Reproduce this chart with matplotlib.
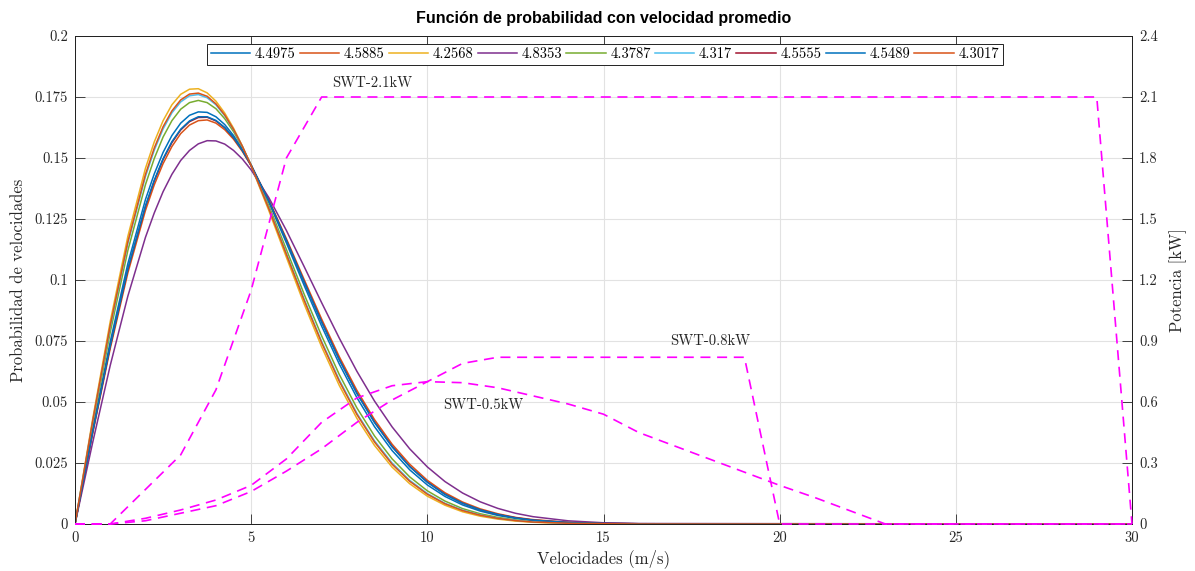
import matplotlib
matplotlib.use("Agg")
import matplotlib.pyplot as plt
from matplotlib.ticker import FixedLocator, FormatStrFormatter

plt.rcParams['font.family'] = ['cmr10', 'DejaVu Serif']
plt.rcParams['axes.formatter.use_mathtext'] = True
plt.rcParams['mathtext.fontset'] = 'cm'

# velocidades para la distribucion (m/s)
v = [0, 0.5, 1, 1.5, 2, 2.25, 2.5, 2.75, 3, 3.25, 3.5, 3.75, 4, 4.25, 4.5, 4.75, 5, 5.5, 6, 6.5,
     7, 7.5, 8, 8.5, 9, 9.5, 10, 10.5, 11, 11.5, 12, 12.5, 13, 14, 15, 16, 30]

etiquetas = ['4.4975', '4.5885', '4.2568', '4.8353', '4.3787', '4.317', '4.5555', '4.5489', '4.3017']

p1 = [0, .0385, .0747, .1067, .1330, .1435, .1523, .1592, .1643, .1675, .1689, .1687, .1669, .1637, .1592, .1536,
      .1471, .1320, .1152, .0979, .0811, .0656, .0518, .0399, .0301, .0222, .0160, .0113, .0078, .0053, .0035,
      .0023, .0014, .0005, .0002, .0001, 0]
p2 = [0, .0370, .0719, .1029, .1285, .1390, .1477, .1547, .1600, .1635, .1653, .1656, .1643, .1616, .1577, .1527,
      .1468, .1328, .1169, .1003, .0840, .0686, .0548, .0428, .0327, .0245, .0179, .0128, .0090, .0062, .0042,
      .0027, .0018, .0007, .0003, .0001, 0]
p3 = [0, .0429, .0830, .1179, .1458, .1566, .1653, .1718, .1761, .1782, .1784, .1767, .1733, .1684, .1622, .1549,
      .1467, .1285, .1093, .0903, .0726, .0568, .0433, .0322, .0233, .0165, .0114, .0077, .0050, .0032, .0020,
      .0012, .0007, .0002, .0001, 0, 0]
p4 = [0, .0333, .0650, .0934, .1175, .1275, .1362, .1433, .1490, .1531, .1558, .1571, .1570, .1557, .1531, .1496,
      .1451, .1338, .1203, .1056, .0907, .0762, .0626, .0504, .0398, .0308, .0234, .0174, .0127, .0091, .0064,
      .0044, .0030, .0013, .0005, .0002, 0]
p5 = [0, .0405, .0786, .1121, .1391, .1498, .1586, .1653, .1700, .1727, .1736, .1727, .1702, .1661, .1608, .1544,
      .1471, .1305, .1125, .0943, .0771, .0613, .0476, .0361, .0267, .0193, .0136, .0094, .0063, .0042, .0027,
      .0017, .0010, .0004, .0001, 0, 0]
p6 = [0, .0417, .0808, .1150, .1424, .1532, .1619, .1685, .1730, .1755, .1760, .1747, .1718, .1673, .1616, .1547,
      .1469, .1296, .1109, .0923, .0748, .0591, .0454, .0341, .0250, .0179, .0125, .0085, .0057, .0037, .0023,
      .0015, .0009, .0003, .0001, 0, 0]
p7 = [0, .0375, .0729, .1043, .1301, .1406, .1494, .1563, .1615, .1649, .1666, .1667, .1652, .1624, .1583, .1531,
      .1469, .1325, .1163, .0994, .0829, .0675, .0537, .0418, .0318, .0236, .0172, .0122, .0085, .0058, .0039,
      .0026, .0016, .0006, .0002, .0001, 0]
p8 = [0, .0376, .0731, .1045, .1304, .1409, .1497, .1567, .1618, .1652, .1669, .1669, .1654, .1625, .1584, .1531,
      .1470, .1324, .1162, .0993, .0827, .0673, .0535, .0416, .0316, .0235, .0171, .0121, .0085, .0058, .0039,
      .0025, .0016, .0006, .0002, .0001, 0]
p9 = [0, .0420, .0814, .1157, .1433, .1541, .1628, .1693, .1738, .1762, .1766, .1753, .1722, .1676, .1617, .1548,
      .1469, .1293, .1105, .0918, .0743, .0585, .0449, .0336, .0245, .0175, .0122, .0083, .0055, .0036, .0023,
      .0014, .0008, .0003, .0001, 0, 0]

# curvas de potencia de las turbinas (kW)
v_pot = list(range(0, 31))
swt_21 = [0, 0, 0.17, 0.34, 0.66, 1.15, 1.80] + [2.10] * 23 + [0]
swt_08 = [0, 0, 0.016, 0.053, 0.09, 0.16, 0.26, 0.37, 0.50, 0.61, 0.70, 0.79] + [0.82] * 8 + [0] * 11
swt_05 = [0, 0, 0.028, 0.069, 0.118, 0.19, 0.32, 0.50, 0.62, 0.68, 0.70, 0.695, 0.67, 0.63, 0.59, 0.54,
          0.45, 0.385, 0.32, 0.255, 0.19, 0.13, 0.065] + [0] * 8

colores = ['#0072BD', '#D95319', '#EDB120', '#7E2F8E', '#77AC30', '#4DBEEE', '#A2142F', '#0072BD', '#D95319']
txt = '#262626'

fig = plt.figure(figsize=(11.95, 5.71), dpi=100)
ax = fig.add_axes([75 / 1195, 47 / 571, 1057 / 1195, 488 / 571])

for serie, lab, c in zip([p1, p2, p3, p4, p5, p6, p7, p8, p9], etiquetas, colores):
    ax.plot(v, serie, color=c, lw=1.1, label=lab)

ax.set_xlim(0, 30)
ax.set_ylim(0, 0.2)
ax.xaxis.set_major_locator(FixedLocator([0, 5, 10, 15, 20, 25, 30]))
ax.yaxis.set_major_locator(FixedLocator([0, 0.025, 0.05, 0.075, 0.1, 0.125, 0.15, 0.175, 0.2]))
ax.yaxis.set_major_formatter(FormatStrFormatter('%g'))
ax.xaxis.set_major_formatter(FormatStrFormatter('%g'))
ax.grid(True, color='#e2e2e2', lw=0.8)
ax.set_axisbelow(True)
ax.tick_params(direction='in', length=7, width=0.6, labelsize=10.5, colors=txt, top=True, right=False, pad=5)
ax.set_xlabel('Velocidades (m/s)', fontsize=12, color=txt, labelpad=3)
ax.set_ylabel('Probabilidad de velocidades', fontsize=12, color=txt, labelpad=6)
for s in ax.spines.values():
    s.set_linewidth(0.7)
    s.set_color('#222222')

leg = ax.legend(loc='upper center', bbox_to_anchor=(0.5014, 0.984), ncol=9, fontsize=10.5,
                frameon=True, fancybox=False, framealpha=1, edgecolor='#222222',
                handlelength=2.7, handletextpad=0.3, columnspacing=0.3, borderpad=0.25,
                borderaxespad=0)
leg.get_frame().set_linewidth(0.7)

ax2 = ax.twinx()
estilo = (0, (6, 4))
for pot in [swt_21, swt_08, swt_05]:
    ax2.plot(v_pot, pot, color='#FF00FF', lw=1.2, ls=estilo, clip_on=False, zorder=3)
ax2.set_ylim(0, 2.4)
ax2.yaxis.set_major_locator(FixedLocator([0, 0.3, 0.6, 0.9, 1.2, 1.5, 1.8, 2.1, 2.4]))
ax2.yaxis.set_major_formatter(FormatStrFormatter('%g'))
ax2.tick_params(direction='in', length=7, width=0.6, labelsize=10.5, colors=txt, pad=5)
ax2.set_ylabel('Potencia [kW]', fontsize=12, color=txt, labelpad=8)
for s in ax2.spines.values():
    s.set_linewidth(0.7)
    s.set_color('#222222')

ax2.text(7.3, 2.17, 'SWT-2.1kW', fontsize=10.5, color=txt, va='center')
ax2.text(16.9, 0.90, 'SWT-0.8kW', fontsize=10.5, color=txt, va='center')
ax2.text(10.45, 0.585, 'SWT-0.5kW', fontsize=10.5, color=txt, va='center')

ax.set_title('Función de probabilidad con velocidad promedio', fontsize=11.5, fontweight='bold',
             family=['Liberation Sans', 'DejaVu Sans'], color='black', pad=9)

fig.savefig('out.png', dpi=100)
